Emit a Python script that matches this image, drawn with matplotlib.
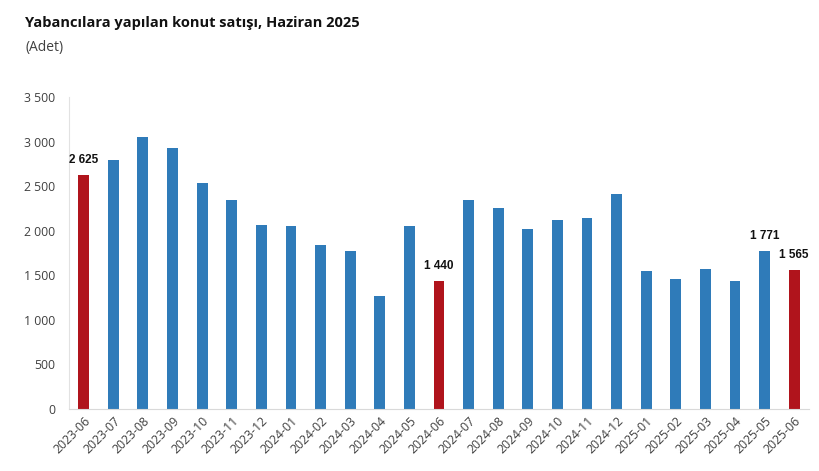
import matplotlib
matplotlib.use("Agg")
import matplotlib.pyplot as plt
import numpy as np

# monthly sales of housing to foreigners
months = ["2023-06", "2023-07", "2023-08", "2023-09", "2023-10", "2023-11", "2023-12",
          "2024-01", "2024-02", "2024-03", "2024-04", "2024-05", "2024-06", "2024-07",
          "2024-08", "2024-09", "2024-10", "2024-11", "2024-12", "2025-01", "2025-02",
          "2025-03", "2025-04", "2025-05", "2025-06"]
sales = [2625, 2799, 3057, 2929, 2534, 2343, 2062, 2055, 1842, 1775, 1268, 2058, 1440,
         2345, 2252, 2021, 2118, 2144, 2413, 1547, 1458, 1574, 1438, 1771, 1565]
highlight = ["2023-06", "2024-06", "2025-06"]
labelled = ["2023-06", "2024-06", "2025-05", "2025-06"]

blue = "#2F7BB9"
red = "#B0141C"

plt.rcParams["font.family"] = ["Open Sans", "DejaVu Sans"]

fig = plt.figure(figsize=(8.2, 4.71), dpi=100)
ax = fig.add_axes([0.0841, 0.1316, 0.9025, 0.6624])

x = np.arange(len(months))
colors = [red if m in highlight else blue for m in months]
ax.bar(x, sales, width=0.37, color=colors, zorder=2)

for i, m in enumerate(months):
    if m in labelled:
        ax.text(i, sales[i] + 100, f"{sales[i]:,}".replace(",", " "), ha="center", va="bottom",
                fontsize=8.5, fontweight="bold", color="#111111", family="Liberation Sans")

ax.set_xlim(-0.5, len(months) - 0.5)
ax.set_ylim(0, 3500)
ax.set_yticks(np.arange(0, 3501, 500))
ax.set_yticklabels([f"{v:,}".replace(",", " ") for v in range(0, 3501, 500)])
ax.set_xticks(x)
ax.set_xticklabels(months, rotation=45, ha="right", rotation_mode="anchor")
ax.tick_params(axis="both", length=0, labelsize=8.8, colors="#404040")
ax.tick_params(axis="y", pad=10)
ax.tick_params(axis="x", pad=4)

for s in ["top", "right"]:
    ax.spines[s].set_visible(False)
ax.spines["left"].set_color("#E2E2E2")
ax.spines["bottom"].set_color("#D9D9D9")

fig.text(0.0305, 0.952, "Yabancılara yapılan konut satışı, Haziran 2025", fontsize=10.5,
         fontweight="bold", color="#111111", va="center")
fig.text(0.0305, 0.9, "(Adet)", fontsize=10, color="#404040", va="center")

fig.savefig("out.png", dpi=100)
